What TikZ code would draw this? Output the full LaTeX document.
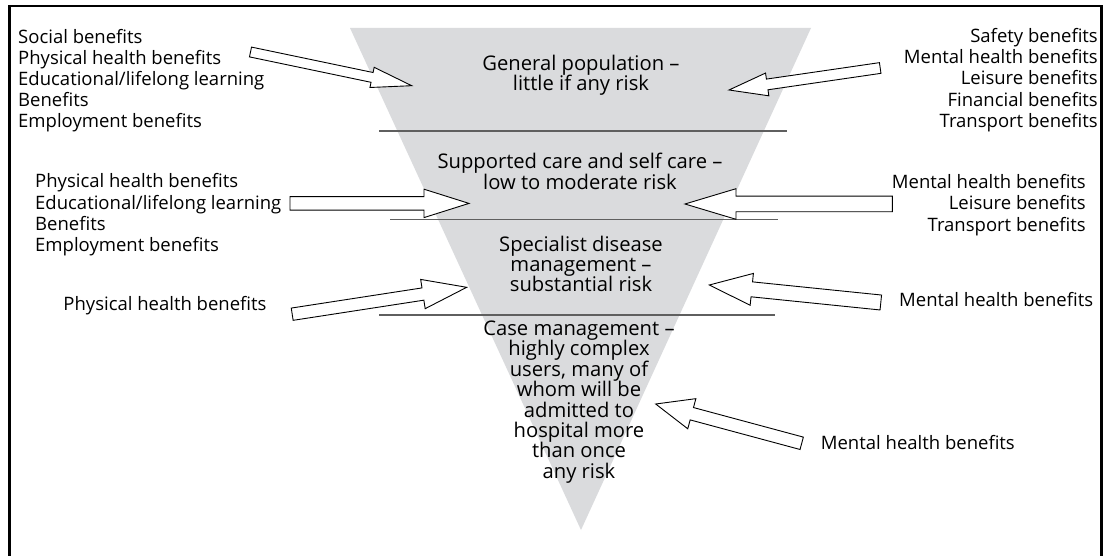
\documentclass[tikz,border=0pt]{standalone}
\usepackage{fontspec}
\setmainfont{Open Sans}
\usetikzlibrary{calc}
\definecolor{trifill}{RGB}{218,219,221}
\definecolor{sepline}{RGB}{95,95,95}
\tikzset{
  side/.style={font=\fontsize{18.5}{21.2}\selectfont, inner sep=0pt},
  tri/.style={font=\fontsize{20.2}{20.4}\selectfont, align=center, inner sep=0pt},
  sepl/.style={draw=sepline, line width=1.5pt},
  barrow/.style={draw=black, fill=white, line width=0.9pt, line join=miter},
  frameline/.style={draw=black, line width=2.6pt},
}
% #1 tail, #2 tip, #3 shaft half width, #4 head half width, #5 head length
\newcommand\blockarrow[5]{%
  \coordinate (#1-#2-h) at ($(#2)!#5pt!(#1)$);
  \draw[barrow] ($(#1)!#3pt!90:(#2)$) -- ($(#1-#2-h)!#3pt!-90:(#1)$)
    -- ($(#1-#2-h)!#4pt!-90:(#1)$) -- (#2) -- ($(#1-#2-h)!#4pt!90:(#1)$)
    -- ($(#1-#2-h)!#3pt!90:(#1)$) -- ($(#1)!#3pt!-90:(#2)$) -- cycle;
}
\begin{document}
\begin{tikzpicture}[x=1pt,y=-1pt]
\useasboundingbox (0,0) rectangle (1103,556);
\fill[white] (0,0) rectangle (1103,556);
\draw[frameline] (9.5,556) -- (9.5,6) -- (1101.7,6) -- (1101.7,556);

% inverted triangle
\fill[trifill] (350,28) -- (811,28) -- (581,530) -- cycle;

% separators
\draw[sepl] (379,131) -- (787,131);
\draw[sepl] (390,219.3) -- (778,219.3);
\draw[sepl] (379,315) -- (775,315);

% level texts
\node[tri] (lvl1) at (581,75.5) {General population –\\little if any risk};
\node[tri] (lvl2) at (580,171.5) {Supported care and self care –\\low to moderate risk};
\node[tri] (lvl3) at (581,264) {Specialist disease\\management –\\substantial risk};
\node[tri] (lvl4) at (579,402) {Case management –\\highly complex\\users, many of\\whom will be\\admitted to\\hospital more\\than once\\any risk};

% side texts
\node[side, align=left, anchor=west] (lb1) at (18,80.7) {Social benefits\\Physical health benefits\\Educational/lifelong learning\\Benefits\\Employment benefits};
\node[side, align=left, anchor=west] (lb2) at (35,214.8) {Physical health benefits\\Educational/lifelong learning\\Benefits\\Employment benefits};
\node[side, anchor=east] (lb3) at (266.7,306) {Physical health benefits};
\node[side, align=right, anchor=east] (rb1) at (1098,80) {Safety benefits\\Mental health benefits\\Leisure benefits\\Financial benefits\\Transport benefits};
\node[side, align=right, anchor=east] (rb2) at (1086,205) {Mental health benefits\\Leisure benefits\\Transport benefits};
\node[side, anchor=east] (rb3) at (1093.3,300) {Mental health benefits};
\node[side, anchor=west] (rb4) at (820.7,443) {Mental health benefits};

% arrow end points
\coordinate (a1t) at (250.5,52);   \coordinate (a1p) at (411.7,85.7);
\coordinate (a2t) at (290,203.4);  \coordinate (a2p) at (469,203.4);
\coordinate (a3t) at (880.2,68);   \coordinate (a3p) at (729,90);
\coordinate (a4t) at (892.3,204);  \coordinate (a4p) at (685,204);
\coordinate (a5t) at (292.2,314.2);\coordinate (a5p) at (466.7,287.3);
\coordinate (a6t) at (880.8,302.5);\coordinate (a6p) at (709.3,285);
\coordinate (a7t) at (801.7,443.3);\coordinate (a7p) at (655.7,404);

\blockarrow{a1t}{a1p}{5}{10.3}{40.5}
\blockarrow{a2t}{a2p}{6.7}{14.2}{45}
\blockarrow{a3t}{a3p}{5.4}{11.5}{38.6}
\blockarrow{a4t}{a4p}{7.8}{15.3}{51}
\blockarrow{a5t}{a5p}{6.2}{14.8}{44.3}
\blockarrow{a6t}{a6p}{7.5}{16}{42.7}
\blockarrow{a7t}{a7p}{6.4}{15.6}{37.4}
\end{tikzpicture}
\end{document}
